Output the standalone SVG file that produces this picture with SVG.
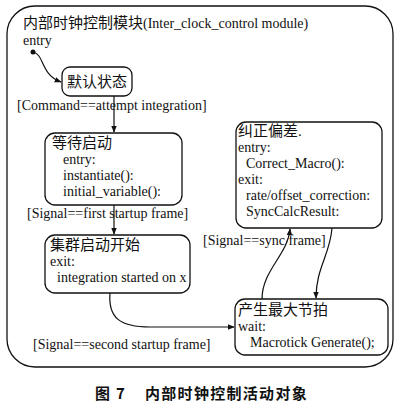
<svg xmlns="http://www.w3.org/2000/svg" width="400" height="414" viewBox="0 0 400 414">
<style>
.t{font-family:"Liberation Serif","Noto Sans CJK SC",serif;font-size:14px;fill:#111}
.z{font-size:15px}
.box{fill:#fff;stroke:#111;stroke-width:1.3}
.ln{fill:none;stroke:#111;stroke-width:1.2}
.cap{font-family:"Noto Sans CJK SC","Liberation Sans",sans-serif;font-size:15px;font-weight:bold;fill:#111;letter-spacing:1.3px}
</style>
<defs>
<marker id="ah" viewBox="0 0 10 10" refX="9" refY="5" markerWidth="7" markerHeight="7" orient="auto" markerUnits="userSpaceOnUse">
<path d="M0,1 L10,5 L0,9 Z" fill="#111"/>
</marker>
</defs>
<rect width="400" height="414" fill="#fff"/>
<g id="frame">
<rect x="7" y="6" width="386" height="361" rx="28" ry="28" class="box"/>
<text x="23" y="28" class="t"><tspan class="z">内部时钟控制模块</tspan>(Inter_clock_control module)</text>
<text x="23" y="45" class="t">entry</text>
<circle cx="33" cy="52" r="2.5" fill="#111"/>
</g>
<g id="connectors">
<path d="M33,52 C45,55 40,74 61,82" class="ln" marker-end="url(#ah)"/>
<path d="M114,96 L114,132" class="ln" marker-end="url(#ah)"/>
<path d="M114,205 L114,234" class="ln" marker-end="url(#ah)"/>
<path d="M110,293 C108,318 120,327 150,327 L234,327" class="ln" marker-end="url(#ah)"/>
<path d="M262,299 C262,270 288,255 290,229" class="ln" marker-end="url(#ah)"/>
<path d="M332,228 C330,255 316,268 316,298" class="ln" marker-end="url(#ah)"/>
<text x="17" y="110" class="t">[Command==attempt integration]</text>
<text x="27" y="218" class="t">[Signal==first startup frame]</text>
<text x="203" y="245" class="t">[Signal==sync frame]</text>
<text x="33" y="349" class="t">[Signal==second startup frame]</text>
</g>
<g id="default">
<rect x="62" y="67" width="70" height="29" rx="8" class="box"/>
<text x="97" y="87" class="t z" text-anchor="middle">默认状态</text>
</g>
<g id="wait">
<rect x="45" y="133" width="137" height="72" rx="10" class="box"/>
<text x="52" y="148" class="t z">等待启动</text>
<text x="63" y="164" class="t">entry:</text>
<text x="63" y="180" class="t">instantiate():</text>
<text x="63" y="196" class="t">initial_variable():</text>
</g>
<g id="cluster">
<rect x="45" y="235" width="145" height="58" rx="10" class="box"/>
<text x="50" y="250" class="t z">集群启动开始</text>
<text x="50" y="266" class="t">exit:</text>
<text x="57" y="282" class="t">integration started on x</text>
</g>
<g id="correct">
<rect x="236" y="122" width="146" height="106" rx="10" class="box"/>
<text x="238" y="136" class="t z">纠正偏差.</text>
<text x="238" y="152" class="t">entry:</text>
<text x="246" y="168" class="t">Correct_Macro():</text>
<text x="238" y="184" class="t">exit:</text>
<text x="246" y="200" class="t">rate/offset_correction:</text>
<text x="246" y="216" class="t">SyncCalcResult:</text>
</g>
<g id="macrotick">
<rect x="235" y="299" width="153" height="56" rx="10" class="box"/>
<text x="238" y="315" class="t z">产生最大节拍</text>
<text x="238" y="331" class="t">wait:</text>
<text x="250" y="347" class="t">Macrotick Generate();</text>
</g>
<text x="95" y="399" class="cap" xml:space="preserve">图 7    内部时钟控制活动对象</text>
</svg>
